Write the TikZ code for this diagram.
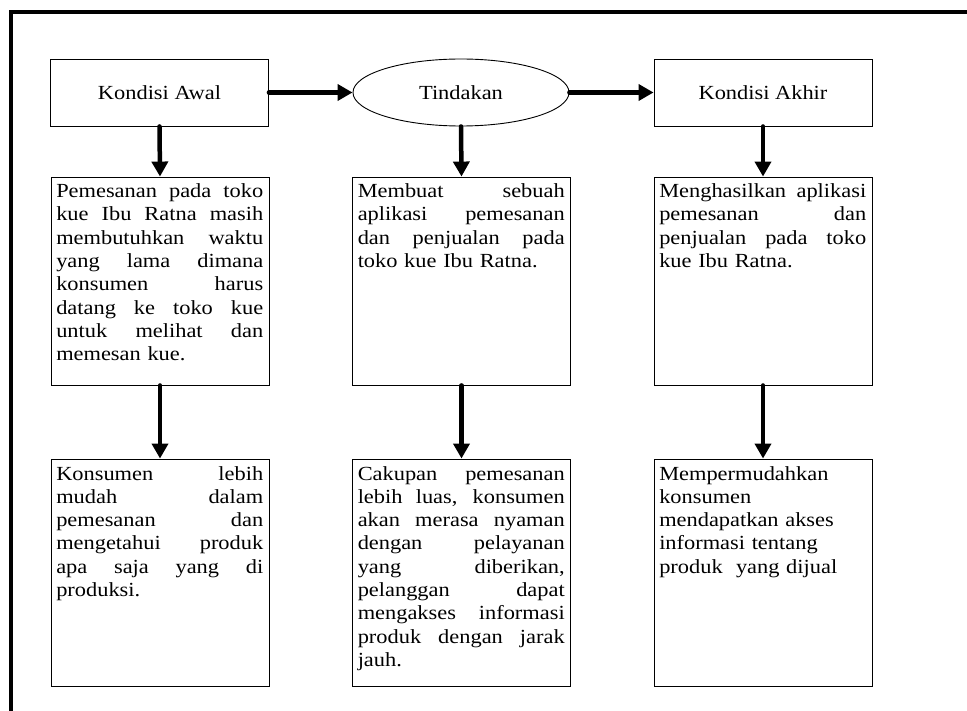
\documentclass[tikz,border=0pt]{standalone}
\usepackage{fontspec}
\setmainfont{Liberation Serif}[FakeStretch=1.12]
\usetikzlibrary{arrows.meta,shapes.geometric}
% one fully justified line of a paragraph (stretchable interword spaces)
\newcommand\jline[1]{\makebox[207pt][s]{\spaceskip=0pt \xspaceskip=0pt #1}\\}
\begin{document}
\begin{tikzpicture}[x=1pt,y=-1pt,
  box/.style={draw, line width=0.9pt, rectangle, minimum width=218pt, inner sep=0pt},
  headbox/.style={box, minimum height=67pt, font=\fontsize{20}{23.3}\selectfont},
  headoval/.style={draw, line width=0.9pt, ellipse, minimum width=216pt, minimum height=67pt,
    inner sep=0pt, font=\fontsize{20}{23.3}\selectfont},
  midbox/.style={box, minimum height=208pt},
  lowbox/.style={box, minimum height=227pt},
  txt/.style={text width=207pt, align=left, inner sep=0pt, anchor=base west,
    font=\fontsize{20}{23.3}\selectfont},
  flow/.style={line width=4.5pt, line cap=round, -{Triangle[length=15pt,width=16pt]}},
  frame/.style={line width=3.5pt}]
\useasboundingbox (0,0) rectangle (967,711);
\clip (0,0) rectangle (967,711);

% outer frame
\draw[frame] (11,740) -- (11,12) -- (990,12);

% top row
\node[headbox]  (a1) at (159.5,92.5) {Kondisi Awal};
\node[headoval] (b1) at (461,92.5)   {Tindakan};
\node[headbox]  (c1) at (763,92.5)   {Kondisi Akhir};

% middle row
\node[midbox] (a2) at (160,281)   {};
\node[midbox] (b2) at (461.5,281) {};
\node[midbox] (c2) at (763,281)   {};

% bottom row
\node[lowbox] (a3) at (160,572.5)   {};
\node[lowbox] (b3) at (461.5,572.5) {};
\node[lowbox] (c3) at (763,572.5)   {};

% box texts
\node[txt] at ([xshift=5.5pt,yshift=-21pt]a2.north west) {%
  \jline{Pemesanan pada toko}
  \jline{kue Ibu Ratna masih}
  \jline{membutuhkan waktu}
  \jline{yang lama dimana}
  \jline{konsumen harus}
  \jline{datang ke toko kue}
  \jline{untuk melihat dan}
  memesan kue.};
\node[txt] at ([xshift=5.5pt,yshift=-21pt]b2.north west) {%
  \jline{Membuat sebuah}
  \jline{aplikasi pemesanan}
  \jline{dan penjualan pada}
  toko kue Ibu Ratna.};
\node[txt] at ([xshift=5.5pt,yshift=-21pt]c2.north west) {%
  \jline{Menghasilkan aplikasi}
  \jline{pemesanan dan}
  \jline{penjualan pada toko}
  kue Ibu Ratna.};
\node[txt] at ([xshift=5.5pt,yshift=-21.5pt]a3.north west) {%
  \jline{Konsumen lebih}
  \jline{mudah dalam}
  \jline{pemesanan dan}
  \jline{mengetahui produk}
  \jline{apa saja yang di}
  produksi.};
\node[txt] at ([xshift=5.5pt,yshift=-21.5pt]b3.north west) {%
  \jline{Cakupan pemesanan}
  \jline{lebih luas, konsumen}
  \jline{akan merasa nyaman}
  \jline{dengan pelayanan}
  \jline{yang diberikan,}
  \jline{pelanggan dapat}
  \jline{mengakses informasi}
  \jline{produk dengan jarak}
  jauh.};
\node[txt] at ([xshift=5.5pt,yshift=-21.5pt]c3.north west) {%
  Mempermudahkan\\
  konsumen\\
  mendapatkan akses\\
  informasi tentang\\
  produk\ \ yang dijual};

% connectors
\draw[flow] (a1.east) -- (b1.west);
\draw[flow] (b1.east) -- (c1.west);
\draw[flow] (a1.south) -- (a2.north);
\draw[flow] (b1.south) -- (b2.north);
\draw[flow] (c1.south) -- (c2.north);
\draw[flow] (a2.south) -- (a3.north);
\draw[flow] (b2.south) -- (b3.north);
\draw[flow] (c2.south) -- (c3.north);
\end{tikzpicture}
\end{document}
